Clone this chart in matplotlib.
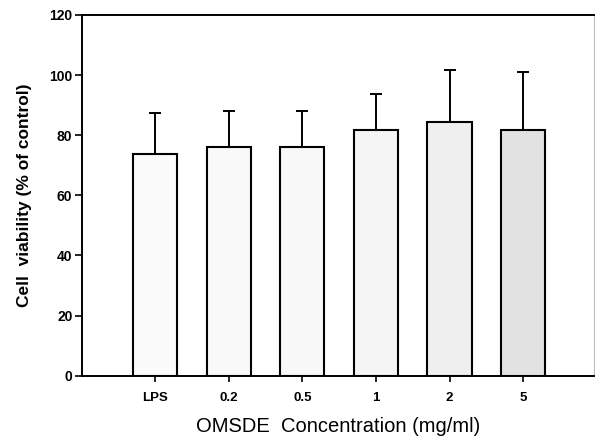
import matplotlib
matplotlib.use("Agg")
import matplotlib.pyplot as plt

categories = ["LPS", "0.2", "0.5", "1", "2", "5"]
viability = [73.7, 76.2, 76.2, 81.7, 84.3, 81.8]
sd_upper = [13.8, 11.9, 11.7, 12.1, 17.4, 19.3]
fills = ["#fbfbfb", "#f9f9f9", "#f8f8f8", "#f5f5f5", "#efefef", "#e2e2e2"]

plt.rcParams["font.family"] = ["Liberation Sans", "DejaVu Sans"]

fig = plt.figure(figsize=(5.95, 4.38), dpi=100)
ax = fig.add_axes([0.138, 0.142, 0.86, 0.824])

x = list(range(len(categories)))
ax.bar(x, viability, width=0.6, color=fills, edgecolor="black", linewidth=1.5, zorder=2)
ax.errorbar(x, viability, yerr=[[0] * len(x), sd_upper], fmt="none",
            ecolor="black", elinewidth=1.4, capsize=4, capthick=1.4, zorder=1)

ax.set_xlim(-0.99, 5.96)
ax.set_ylim(0, 120)
ax.set_yticks([0, 20, 40, 60, 80, 100, 120])
ax.set_xticks(x)
ax.set_xticklabels(categories)
ax.tick_params(axis="both", direction="out", width=1.2)
ax.tick_params(axis="y", length=5, pad=2, labelsize=10)
ax.tick_params(axis="x", length=4, pad=8, labelsize=9.5)
for lab in ax.get_xticklabels() + ax.get_yticklabels():
    lab.set_fontweight("bold")

for side in ("left", "bottom", "top"):
    ax.spines[side].set_linewidth(1.4)
ax.spines["right"].set_color("#bbbbbb")
ax.spines["right"].set_linewidth(0.8)

ax.set_ylabel("Cell  viability (% of control)", fontsize=12.5, fontweight="bold", labelpad=12)
ax.set_xlabel("OMSDE  Concentration (mg/ml)", fontsize=14.5, labelpad=9)

fig.savefig("out.png", dpi=100)
